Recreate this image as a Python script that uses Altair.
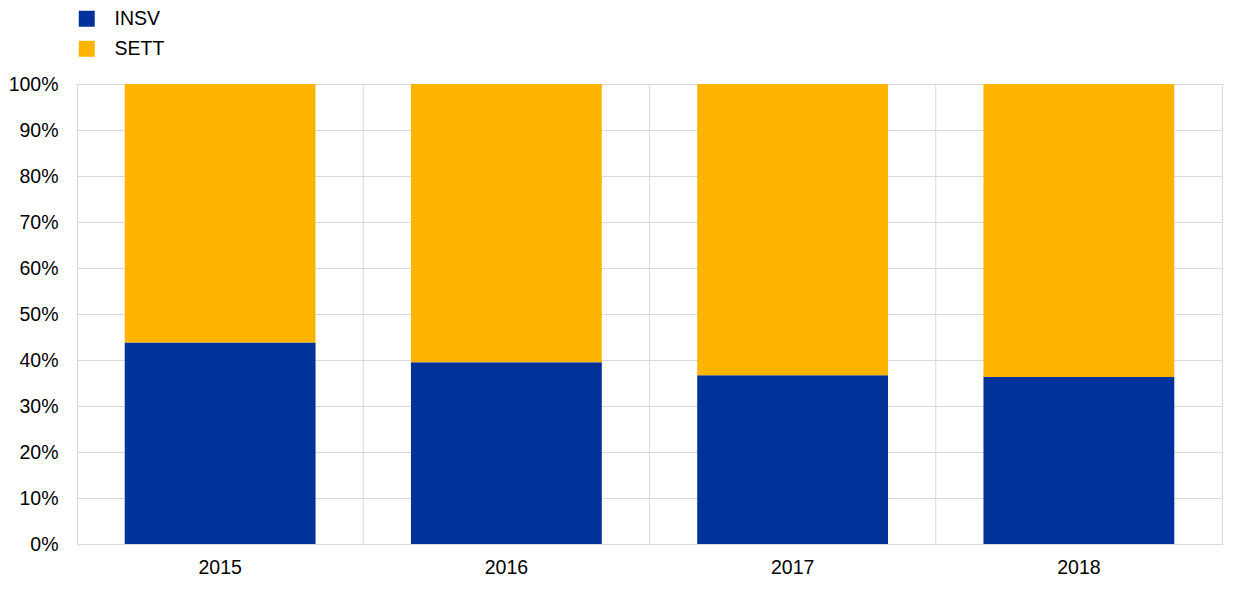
import altair as alt
import pandas as pd

years = ["2015", "2016", "2017", "2018"]
insv = [0.438, 0.395, 0.367, 0.363]
sett = [round(1 - v, 3) for v in insv]
series = ["INSV", "SETT"]
colors = ["#003299", "#FFB400"]
y_ticks = [i / 10 for i in range(11)]
boundaries = [1, 2, 3]

rows = []
for i, yr in enumerate(years):
    rows.append({"year": yr, "series": "INSV", "value": insv[i], "ord": 0})
    rows.append({"year": yr, "series": "SETT", "value": sett[i], "ord": 1})
df = pd.DataFrame(rows)
bounds = pd.DataFrame({"b": boundaries})

FONT = "Liberation Sans"
FS = 19.5

bars = alt.Chart(df).mark_bar(width=alt.RelativeBandSize(2 / 3)).encode(
    x=alt.X("year:N", sort=years, title=None,
            scale=alt.Scale(paddingInner=0, paddingOuter=0),
            axis=alt.Axis(labelAngle=0, ticks=False, labelPadding=14,
                          domainColor="#d9d9d9", labelFontSize=FS,
                          labelBaseline="top", labelAlign="center",
                          labelColor="#000000", labelFont=FONT)),
    y=alt.Y("value:Q", stack="zero", title=None,
            scale=alt.Scale(domain=[0, 1], nice=False),
            axis=alt.Axis(values=y_ticks, format=".0%", ticks=False,
                          labelPadding=19, domainColor="#d9d9d9",
                          gridColor="#d9d9d9", labelFontSize=FS,
                          labelColor="#000000", labelFont=FONT)),
    color=alt.Color("series:N",
                    scale=alt.Scale(domain=series, range=colors),
                    legend=alt.Legend(title=None, orient="none", legendX=0, legendY=-75,
                                      symbolType="square", symbolSize=256,
                                      symbolStrokeWidth=0, labelFontSize=FS,
                                      labelFont=FONT, labelColor="#000000",
                                      rowPadding=9, labelOffset=18)),
    order=alt.Order("ord:Q"),
)

rules = alt.Chart(bounds).mark_rule(color="#d9d9d9", strokeWidth=1).encode(
    x=alt.X("b:Q", scale=alt.Scale(domain=[0, 4], nice=False), axis=None),
    y=alt.value(0),
    y2=alt.value(460),
)

chart = alt.layer(rules, bars).resolve_scale(x="independent").properties(
    width=1145, height=460,
    autosize=alt.AutoSizeParams(type="none"),
    padding={"left": 69, "top": 76, "right": 10, "bottom": 60},
).configure_view(stroke="#d9d9d9")

chart.save("out.html", embed_options={"renderer": "svg", "actions": False})
